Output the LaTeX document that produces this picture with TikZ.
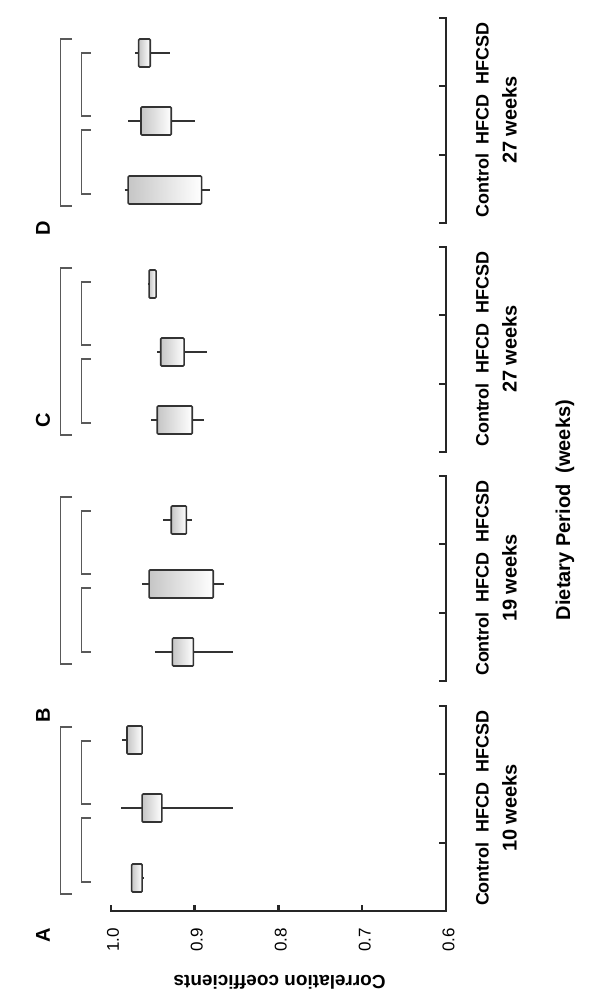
\documentclass[tikz,border=0pt]{standalone}
\usepackage{fontspec}
\setmainfont{Liberation Sans}
\usetikzlibrary{positioning}
\tikzset{
  axisline/.style={line width=1.1pt, black!85},
  brack/.style={line width=0.7pt, black!65},
  whisk/.style={line width=1.1pt, black!80},
  bxp/.style={draw=black!80, line width=0.8pt, rounded corners=0.5pt, left color=gray!45, right color=white},
  lab/.style={font=\bfseries\fontsize{9}{10}\selectfont, rotate=90, inner sep=0pt},
  ticklab/.style={font=\fontsize{8.5}{10}\selectfont, rotate=90, inner sep=0pt},
}
% box: centre y, whisker low, box low, box high, whisker high
\newcommand{\bplot}[5]{%
  \draw[whisk] (#2,#1) -- (#5,#1);
  \draw[bxp] (#3,#1-14) rectangle (#4,#1+14);}
\begin{document}
\begin{tikzpicture}[x=0.5825pt, y=-0.5pt]
\useasboundingbox (0,0) rectangle (522.75,999);
% panels: top offset, period, letter position
\foreach \o/\wk/\name/\ly in {18/27 weeks/D/228, 247/27 weeks/C/420, 476/19 weeks/B/715, 706/10 weeks/A/935}{
  \draw[axisline] (377,\o) -- (383,\o) -- (383,\o+205) -- (377,\o+205);
  \draw[axisline] (383,\o+68) -- (377,\o+68);
  \draw[axisline] (383,\o+137) -- (377,\o+137);
  \node[lab, anchor=south] (cat\name) at (420,\o+102) {Control\ \ HFCD\ \ HFCSD};
  \node[lab, anchor=south] (wk\name) at (444,\o+102) {\fontsize{10}{11}\selectfont\wk};
  \node[lab] (let\name) at (37,\ly) {\fontsize{10}{11}\selectfont\name};
  % significance brackets
  \draw[brack] (62,\o+21) -- (52,\o+21) -- (52,\o+188) -- (62,\o+188);
  \draw[brack] (78,\o+35) -- (70,\o+35) -- (70,\o+98) -- (78,\o+98);
  \draw[brack] (78,\o+112) -- (70,\o+112) -- (70,\o+176) -- (78,\o+176);
}
% value axis
\draw[axisline] (95,905) -- (95,911) -- (383,911);
\foreach \v/\t [count=\i from 0] in {1.0/1.0,0.9/0.9,0.8/0.8,0.7/0.7,0.6/0.6}{
  \draw[axisline] (95+72*\i,911) -- (95+72*\i,905);
  \node[ticklab] (tick\i) at (97+72*\i,940) {\t};
}
\node[font=\bfseries\fontsize{9.5}{11}\selectfont, rotate=180] (ylab) at (240,982) {Correlation coefficients};
\node[lab, font=\bfseries\fontsize{10}{11}\selectfont] (xlab) at (485,510) {Dietary Period\ \ (weeks)};
% panel D
\bplot{53}{116}{119}{129}{146}
\bplot{121}{110}{121}{147}{167}
\bplot{190}{107}{110}{173}{180}
% panel C
\bplot{284}{127}{128}{134}{135}
\bplot{352}{135}{138}{158}{178}
\bplot{420}{130}{135}{165}{175}
% panel B
\bplot{520}{140}{147}{160}{165}
\bplot{584}{122}{128}{183}{192}
\bplot{652}{133}{148}{166}{200}
% panel A
\bplot{740}{105}{109}{122}{122}
\bplot{808}{104}{122}{139}{200}
\bplot{878}{113}{113}{122}{124}
\end{tikzpicture}
\end{document}
